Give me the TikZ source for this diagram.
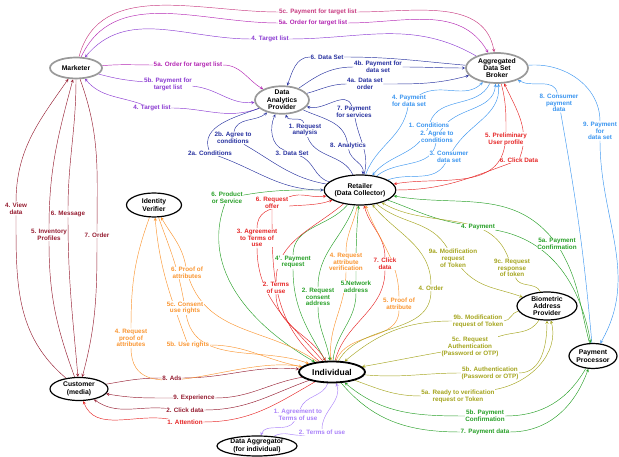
\documentclass[tikz,border=0pt]{standalone}
\usepackage{fontspec}
\setmainfont{Liberation Sans}
\usetikzlibrary{shapes.geometric,backgrounds}
\definecolor{cPink}{RGB}{200,60,130}
\definecolor{cMag}{RGB}{180,40,180}
\definecolor{cPurp}{RGB}{140,60,210}
\definecolor{cNavy}{RGB}{40,50,160}
\definecolor{cSky}{RGB}{60,150,240}
\definecolor{cRed}{RGB}{230,40,40}
\definecolor{cGreen}{RGB}{40,160,40}
\definecolor{cOrange}{RGB}{250,150,50}
\definecolor{cOlive}{RGB}{165,165,30}
\definecolor{cMaroon}{RGB}{150,30,50}
\definecolor{cLav}{RGB}{170,130,250}
\tikzset{
  actor/.style={ellipse, draw, line width=1.2pt, inner sep=0pt, align=center,
    font=\fontsize{6.8}{7.4}\selectfont\bfseries},
  hub/.style={actor, draw=black!40, line width=1.7pt},
  lbl/.style={fill=white, text=#1, inner sep=0.4pt, align=center,
    font=\fontsize{6.3}{6.8}\selectfont\bfseries},
  flow/.style={->, >=stealth, line width=0.45pt},
}

\begin{document}
\begin{tikzpicture}[x=1pt,y=1pt]
\useasboundingbox (0,0) rectangle (619,457);

% parties
\node[hub, minimum width=52pt, minimum height=21pt] (mkt) at (76,389) {Marketer};
\node[hub, minimum width=62pt, minimum height=30pt] (brk) at (497,389) {Aggregated\\Data Set\\Broker};
\node[hub, minimum width=54pt, minimum height=27pt] (dap) at (282,357) {Data\\Analytics\\Provider};
\node[actor, minimum width=66pt, minimum height=30pt] (ret) at (360,267) {Retailer\\(Data Collector)};
\node[actor, minimum width=55pt, minimum height=24pt] (ver) at (154,252) {Identity\\Verifier};
\node[actor, minimum width=60pt, minimum height=25pt] (bio) at (547,151) {Biometric\\Address\\Provider};
\node[actor, minimum width=48pt, minimum height=25pt] (pp) at (593,101) {Payment\\Processor};
\node[actor, line width=1.8pt, minimum width=66pt, minimum height=21pt,
  font=\fontsize{8.5}{9}\selectfont\bfseries] (ind) at (332,85) {Individual};
\node[actor, minimum width=58pt, minimum height=23pt] (cus) at (79,68) {Customer\\(media)};
\node[actor, minimum width=80pt, minimum height=20pt] (agg) at (257,11) {Data Aggregator\\(for individual)};

% marketer and broker
\node[lbl=cPink] (t1) at (318,445) {5c. Payment for target list};
\node[lbl=cMag] (t2) at (313,434) {5a. Order for target list};
\node[lbl=cPurp] (t3) at (270,418) {4. Target list};
\node[lbl=cMag] (m1) at (188,392) {5a. Order for target list};
\node[lbl=cPurp] (m2) at (168,373) {5b. Payment for\\target list};
\node[lbl=cPurp] (m3) at (152,349) {4. Target list};

% analytics provider
\node[lbl=cNavy] (b1) at (327,400) {6. Data Set};
\node[lbl=cNavy] (b2) at (378,390) {4b. Payment for\\data set};
\node[lbl=cNavy] (b3) at (365,373) {4a. Data set\\order};
\node[lbl=cNavy] (d1) at (354,345) {7. Payment\\for services};
\node[lbl=cNavy] (d2) at (305,327) {1. Request\\analysis};
\node[lbl=cNavy] (d3) at (348,311) {8. Analytics};
\node[lbl=cNavy] (d4) at (292,304) {3. Data Set};
\node[lbl=cNavy] (d5) at (233,319) {2b. Agree to\\conditions};
\node[lbl=cNavy] (d6) at (210,304) {2a. Conditions};

% broker and retailer
\node[lbl=cSky] (e1) at (409,356) {4. Payment\\for data set};
\node[lbl=cSky] (e2) at (429,332) {1. Conditions};
\node[lbl=cSky] (e3) at (437,320) {2. Agree to\\conditions};
\node[lbl=cSky] (e4) at (449,300) {3. Consumer\\data set};
\node[lbl=cRed] (r1) at (506,318) {5. Preliminary\\User profile};
\node[lbl=cRed] (r2) at (519,297) {6. Click Data};
\node[lbl=cSky] (p1) at (559,354) {8. Consumer\\payment\\data};
\node[lbl=cSky] (p2) at (600,326) {9. Payment\\for\\data set};

% retailer, processor, biometric
\node[lbl=cGreen] (g1) at (478,230) {4. Payment};
\node[lbl=cGreen] (g2) at (557,213) {5a. Payment\\Confirmation};
\node[lbl=cOlive] (o1) at (453,199) {9a. Modification\\request\\of Token};
\node[lbl=cOlive] (o2) at (512,189) {9c. Request\\response\\of token};

% retailer and individual
\node[lbl=cGreen] (i1) at (227,259) {6. Product\\or Service};
\node[lbl=cRed] (i2) at (272,254) {6. Request\\offer};
\node[lbl=cRed] (i3) at (257,219) {3. Agreement\\to Terms of\\use};
\node[lbl=cGreen] (i4) at (293,195) {4'. Payment\\request};
\node[lbl=cRed] (i5) at (276,169) {2. Terms\\of use};
\node[lbl=cOrange] (i6) at (346,195) {4. Request\\attribute\\verification};
\node[lbl=cGreen] (i7) at (318,160) {2. Request\\consent\\address};
\node[lbl=cGreen] (i8) at (356,170) {5.Network\\address};
\node[lbl=cRed] (i9) at (385,193) {7. Click\\data};
\node[lbl=cOrange] (i10) at (399,153) {5. Proof of\\attribute};
\node[lbl=cOlive] (i11) at (431,169) {4. Order};

% biometric, processor and individual
\node[lbl=cOlive] (k1) at (478,136) {9b. Modification\\request of Token};
\node[lbl=cOlive] (k2) at (470,110) {5c. Request\\Authentication\\(Password or OTP)};
\node[lbl=cOlive] (k3) at (490,84) {5b. Authentication\\(Password or OTP)};
\node[lbl=cOlive] (k4) at (458,61) {5a. Ready to verification\\request or Token};
\node[lbl=cGreen] (q1) at (485,41) {5b. Payment\\Confirmation};
\node[lbl=cGreen] (q2) at (485,25) {7. Payment data};

% customer
\node[lbl=cMaroon] (c1) at (172,79) {8. Ads};
\node[lbl=cMaroon] (c2) at (194,59) {9. Experience};
\node[lbl=cMaroon] (c3) at (185,47) {2. Click data};
\node[lbl=cRed] (c4) at (185,35) {1. Attention};
\node[lbl=cMaroon] (v1) at (16,248) {4. View\\data};
\node[lbl=cMaroon] (v2) at (49,222) {5. Inventory\\Profiles};
\node[lbl=cMaroon] (v3) at (68,243) {6. Message};
\node[lbl=cMaroon] (v4) at (97,222) {7. Order};

% verifier and aggregator
\node[lbl=cOrange] (w1) at (187,184) {6. Proof of\\attributes};
\node[lbl=cOrange] (w2) at (185,149) {5c. Consent\\use rights};
\node[lbl=cOrange] (w3) at (131,119) {4. Request\\proof of\\attributes};
\node[lbl=cOrange] (w4) at (188,112) {5b. Use rights};
\node[lbl=cLav] (a1) at (298,42) {1. Agreement to\\Terms of use};
\node[lbl=cLav] (a2) at (322,25) {2. Terms of use};

\begin{scope}[on background layer]
\draw[flow, cPink] (mkt) to[out=75,in=180] (t1) to[out=0,in=100] (brk);
\draw[flow, cMag] (mkt) to[out=65,in=180] (t2) to[out=0,in=120] (brk);
\draw[flow, cPurp] (brk) to[out=150,in=0] (t3) to[out=180,in=50] (mkt);
\draw[flow, cMag] (mkt) to[out=5,in=180] (m1) to[out=0,in=150] (dap);
\draw[flow, cPurp] (mkt) to[out=-15,in=175] (m2) to[out=-5,in=185] (dap);
\draw[flow, cPurp] (dap) to[out=200,in=0] (m3) to[out=160,in=-50] (mkt);

\draw[flow, cNavy] (brk) to[out=175,in=0] (b1) to[out=180,in=70] (dap);
\draw[flow, cNavy] (dap) to[out=35,in=180] (b2) to[out=0,in=180] (brk);
\draw[flow, cNavy] (dap) to[out=15,in=180] (b3) to[out=0,in=195] (brk);
\draw[flow, cNavy] (ret) to[out=75,in=-80] (d1) to[out=110,in=-15] (dap);
\draw[flow, cNavy] (ret) to[out=115,in=-70] (d2) to[out=100,in=-75] (dap);
\draw[flow, cNavy] (dap) to[out=-25,in=100] (d3) to[out=-80,in=80] (ret);
\draw[flow, cNavy] (ret) to[out=165,in=-20] (d4) to[out=160,in=-115] (dap);
\draw[flow, cNavy] (ret) to[out=170,in=-30] (d5) to[out=80,in=-140] (dap);
\draw[flow, cNavy] (dap) to[out=200,in=110] (d6) to[out=-20,in=180] (ret);

\draw[flow, cSky] (ret) to[out=70,in=-100] (e1) to[out=30,in=-135] (brk);
\draw[flow, cSky] (brk) to[out=-115,in=70] (e2) to[out=-110,in=50] (ret);
\draw[flow, cSky] (ret) to[out=40,in=-100] (e3) to[out=60,in=-95] (brk);
\draw[flow, cSky] (ret) to[out=20,in=-120] (e4) to[out=60,in=-85] (brk);
\draw[flow, cRed] (brk) to[out=-75,in=90] (r1) to[out=-100,in=10] (ret);
\draw[flow, cRed] (ret) to[out=0,in=200] (r2) to[out=70,in=-65] (brk);
\draw[flow, cSky] (pp) to[out=95,in=-80] (p1) to[out=100,in=-30] (brk);
\draw[flow, cSky] (brk) to[out=5,in=90] (p2) to[out=-90,in=60] (pp);

\draw[flow, cGreen] (ret) to[out=-20,in=170] (g1) to[out=-10,in=100] (pp);
\draw[flow, cGreen] (pp) to[out=105,in=-60] (g2) to[out=130,in=-10] (ret);
\draw[flow, cOlive] (ret) to[out=-40,in=120] (o1) to[out=-50,in=160] (bio);
\draw[flow, cOlive] (bio) to[out=115,in=-70] (o2) to[out=110,in=-30] (ret);

\draw[flow, cGreen] (ret) to[out=180,in=10] (i1) to[out=-110,in=150] (ind);
\draw[flow, cRed] (ind) to[out=140,in=-90] (i2) to[out=20,in=190] (ret);
\draw[flow, cRed] (ind) to[out=130,in=-90] (i3) to[out=90,in=200] (ret);
\draw[flow, cGreen] (ret) to[out=230,in=90] (i4) to[out=-90,in=120] (ind);
\draw[flow, cRed] (ret) to[out=220,in=90] (i5) to[out=-90,in=120] (ind);
\draw[flow, cOrange] (ret) to[out=260,in=90] (i6) to[out=-90,in=95] (ind);
\draw[flow, cGreen] (ret) to[out=250,in=90] (i7) to[out=-90,in=100] (ind);
\draw[flow, cGreen] (ind) to[out=85,in=-90] (i8) to[out=90,in=-95] (ret);
\draw[flow, cRed] (ind) to[out=75,in=-90] (i9) to[out=90,in=-75] (ret);
\draw[flow, cOrange] (ind) to[out=70,in=-90] (i10) to[out=90,in=-70] (ret);
\draw[flow, cOlive] (ind) to[out=60,in=-90] (i11) to[out=90,in=-50] (ret);

\draw[flow, cOlive] (bio) to[out=190,in=0] (k1) to[out=180,in=40] (ind);
\draw[flow, cOlive] (bio) to[out=-120,in=20] (k2) to[out=190,in=10] (ind);
\draw[flow, cOlive] (ind) to[out=-5,in=180] (k3) to[out=0,in=-90] (bio);
\draw[flow, cOlive] (ind) to[out=-20,in=180] (k4) to[out=10,in=-75] (bio);
\draw[flow, cGreen] (pp) to[out=-120,in=0] (q1) to[out=180,in=-40] (ind);
\draw[flow, cGreen] (ind) to[out=-50,in=180] (q2) to[out=0,in=-110] (pp);

\draw[flow, cMaroon] (cus) to[out=10,in=180] (c1) to[out=0,in=175] (ind);
\draw[flow, cMaroon] (ind) to[out=190,in=0] (c2) to[out=180,in=-10] (cus);
\draw[flow, cMaroon] (ind) to[out=200,in=0] (c3) to[out=175,in=-35] (cus);
\draw[flow, cRed] (ind) to[out=210,in=0] (c4) to[out=170,in=-70] (cus);
\draw[flow, cMaroon] (cus) to[out=140,in=-90] (v1) to[out=90,in=-125] (mkt);
\draw[flow, cMaroon] (cus) to[out=110,in=-90] (v2) to[out=90,in=-105] (mkt);
\draw[flow, cMaroon] (mkt) to[out=-90,in=90] (v3) to[out=-90,in=95] (cus);
\draw[flow, cMaroon] (mkt) to[out=-70,in=90] (v4) to[out=-90,in=75] (cus);

\draw[flow, cOrange] (ind) to[out=145,in=-70] (w1) to[out=100,in=-60] (ver);
\draw[flow, cOrange] (ver) to[out=-70,in=100] (w2) to[out=-80,in=160] (ind);
\draw[flow, cOrange] (ver) to[out=-110,in=90] (w3) to[out=-90,in=170] (ind);
\draw[flow, cOrange] (ind) to[out=170,in=0] (w4) to[out=110,in=-85] (ver);
\draw[flow, cLav] (ind) to[out=-110,in=70] (a1) to[out=-120,in=70] (agg);
\draw[flow, cLav] (agg) to[out=30,in=190] (a2) to[out=90,in=-70] (ind);
\end{scope}
\end{tikzpicture}
\end{document}
